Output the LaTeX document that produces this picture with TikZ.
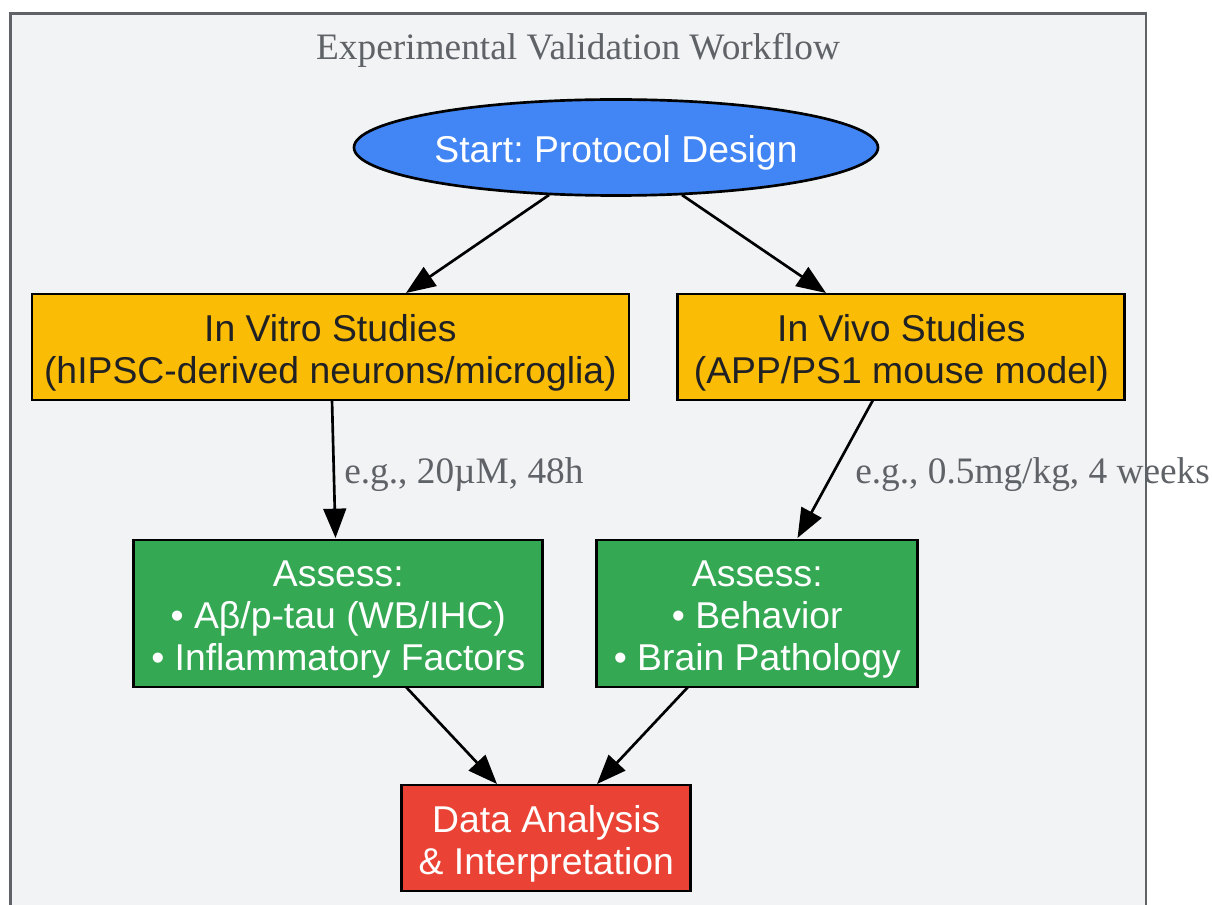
\documentclass[tikz,border=0pt]{standalone}
\usepackage{fontspec}
\setmainfont{Liberation Serif}
\newfontfamily\arialf{Liberation Sans}
\usetikzlibrary{shapes.geometric,arrows.meta}
\definecolor{clusterbg}{HTML}{F1F3F4}
\definecolor{clusterln}{HTML}{5F6368}
\definecolor{gblue}{HTML}{4285F4}
\definecolor{gyellow}{HTML}{FBBC05}
\definecolor{ggreen}{HTML}{34A853}
\definecolor{gred}{HTML}{EA4335}
\definecolor{ink}{HTML}{202124}
\newcommand{\topfix}{\rule{0pt}{28pt}}
\newcommand{\topfixb}{\rule{0pt}{29.5pt}}
\tikzset{
  x=0.75pt,y=-0.75pt,
  boxbase/.style={draw=black,line width=2pt,inner sep=0pt,align=center,font=\arialf\fontsize{28}{31.5}\selectfont\frenchspacing},
  yellowbox/.style={boxbase,fill=gyellow,text=ink},
  greenbox/.style={boxbase,fill=ggreen,text=white},
  redbox/.style={boxbase,fill=gred,text=white},
  startnode/.style={boxbase,ellipse,fill=gblue,text=white},
  flow/.style={draw=black,line width=2pt,-{Triangle[length=22pt,width=17pt]}},
  edgelabel/.style={text=clusterln,font=\fontsize{28}{31.5}\selectfont\frenchspacing,anchor=base west,inner sep=0pt},
}
\begin{document}
\begin{tikzpicture}
\useasboundingbox (0,0) rectangle (1212,905);
\fill[white] (0,0) rectangle (1212,905);
\draw[fill=clusterbg,draw=clusterln,line width=2pt] (10.4,930) -- (10.4,13.4) -- (1146,13.4) -- (1146,930);
\node[text=clusterln,font=\fontsize{28}{31.5}\selectfont,anchor=base] (title) at (578,59.5) {Experimental Validation Workflow};
\node[startnode,minimum width=524*0.75pt,minimum height=96*0.75pt] (start) at (616,147.5) {\topfix Start: Protocol Design};
\node[yellowbox,minimum width=597*0.75pt,minimum height=106*0.75pt] (vitro) at (330.4,347) {\topfixb In Vitro Studies\\(hIPSC-derived neurons/microglia)};
\node[yellowbox,minimum width=447*0.75pt,minimum height=106*0.75pt] (vivo) at (901.3,347) {\topfixb In Vivo Studies\\(APP/PS1 mouse model)};
\node[greenbox,minimum width=409*0.75pt,minimum height=147*0.75pt] (avitro) at (338.3,613.5) {\topfix Assess:\\• Aβ/p-tau (WB/IHC)\\• Inflammatory Factors};
\node[greenbox,minimum width=321*0.75pt,minimum height=147*0.75pt] (avivo) at (757.3,613.5) {\topfix Assess:\\• Behavior\\• Brain Pathology};
\node[redbox,minimum width=289*0.75pt,minimum height=106*0.75pt] (data) at (546.3,838) {\topfixb Data Analysis\\\& Interpretation};
\coordinate (s1) at (549,195); \coordinate (t1) at (406,293);
\coordinate (s2) at (682,195); \coordinate (t2) at (826,293);
\coordinate (s3) at (332,400); \coordinate (t3) at (335.5,538);
\coordinate (s4) at (873,400); \coordinate (t4) at (797.5,538);
\coordinate (s5) at (406,687); \coordinate (t5) at (497,784);
\coordinate (s6) at (688,687); \coordinate (t6) at (597,784);
\draw[flow] (s1) -- (t1);
\draw[flow] (s2) -- (t2);
\draw[flow] (s3) -- (t3);
\draw[flow] (s4) -- (t4);
\draw[flow] (s5) -- (t5);
\draw[flow] (s6) -- (t6);
\node[edgelabel] (l1) at (344,483) {e.g., 20µM, 48h};
\node[edgelabel] (l2) at (855,483) {e.g., 0.5mg/kg, 4 weeks};
\end{tikzpicture}
\end{document}
